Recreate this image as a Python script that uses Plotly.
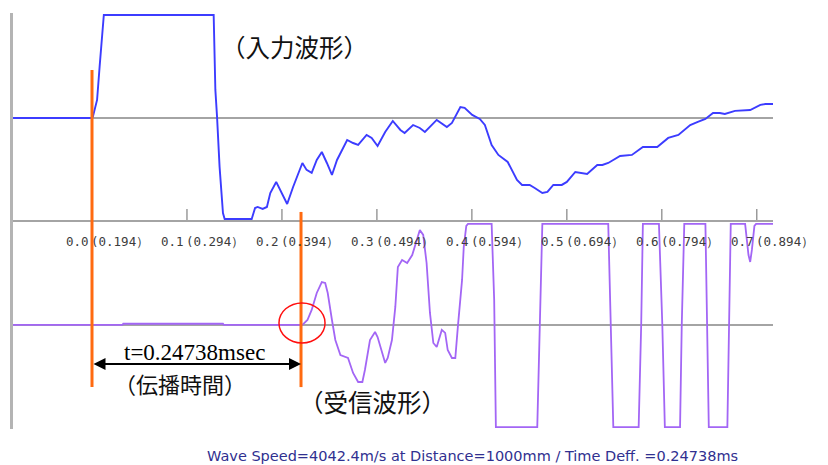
import plotly.graph_objects as go

# ---- waveform data (time in ms, amplitude normalised to +-1 per channel) ----
input_t = [-0.094, 0.000, 0.001, 0.006, 0.009, 0.014, 0.144, 0.146, 0.148, 0.151,
           0.155, 0.157, 0.189, 0.193, 0.196, 0.202, 0.207, 0.211, 0.218, 0.225,
           0.231, 0.238, 0.249, 0.254, 0.260, 0.266, 0.272, 0.278, 0.284, 0.290,
           0.302, 0.309, 0.315, 0.325, 0.331, 0.338, 0.347, 0.356, 0.365, 0.370,
           0.380, 0.388, 0.394, 0.408, 0.420, 0.426, 0.436, 0.441, 0.450, 0.459,
           0.465, 0.473, 0.481, 0.492, 0.503, 0.509, 0.518, 0.524, 0.533, 0.539,
           0.546, 0.556, 0.562, 0.572, 0.581, 0.586, 0.598, 0.604, 0.611, 0.625,
           0.639, 0.652, 0.669, 0.682, 0.694, 0.708, 0.717, 0.726, 0.735, 0.743,
           0.749, 0.761, 0.779, 0.791, 0.797, 0.806]
input_v = [0.000, 0.000, 0.010, 0.174, 0.493, 0.995, 0.995, 0.271, 0.010, -0.473,
           -0.918, -0.976, -0.976, -0.870, -0.860, -0.879, -0.860, -0.725, -0.618, -0.725,
           -0.831, -0.667, -0.435, -0.502, -0.531, -0.406, -0.329, -0.435, -0.551, -0.406,
           -0.213, -0.242, -0.261, -0.164, -0.193, -0.271, -0.135, -0.029, -0.116, -0.145,
           -0.068, -0.097, -0.135, -0.019, -0.087, -0.048, 0.106, 0.097, 0.029, -0.010,
           -0.068, -0.261, -0.357, -0.425, -0.599, -0.647, -0.647, -0.676, -0.725, -0.715,
           -0.647, -0.647, -0.618, -0.522, -0.531, -0.541, -0.454, -0.454, -0.435, -0.367,
           -0.357, -0.280, -0.280, -0.193, -0.164, -0.068, -0.039, -0.010, 0.048, 0.048,
           0.039, 0.068, 0.077, 0.126, 0.135, 0.135]

recv_t = [-0.094, 0.036, 0.037, 0.155, 0.156, 0.249, 0.255, 0.260, 0.266, 0.272,
          0.276, 0.279, 0.284, 0.288, 0.294, 0.299, 0.303, 0.309, 0.315, 0.320,
          0.323, 0.329, 0.335, 0.338, 0.343, 0.347, 0.350, 0.355, 0.359, 0.362,
          0.367, 0.373, 0.379, 0.385, 0.388, 0.392, 0.396, 0.400, 0.404, 0.408,
          0.414, 0.418, 0.421, 0.426, 0.430, 0.433, 0.438, 0.440, 0.443, 0.445,
          0.473, 0.476, 0.478, 0.527, 0.530, 0.533, 0.611, 0.614, 0.617, 0.647,
          0.650, 0.652, 0.671, 0.675, 0.678, 0.696, 0.698, 0.701, 0.726, 0.728,
          0.730, 0.752, 0.754, 0.756, 0.773, 0.777, 0.779, 0.781, 0.784, 0.786,
          0.806]
recv_v = [0.000, 0.000, 0.012, 0.012, 0.000, 0.000, 0.048, 0.145, 0.309, 0.415,
          0.406, 0.309, 0.048, -0.145, -0.290, -0.309, -0.319, -0.464, -0.551, -0.551,
          -0.435, -0.145, -0.068, -0.116, -0.271, -0.367, -0.319, -0.145, 0.174, 0.560,
          0.628, 0.599, 0.676, 0.850, 0.918, 0.870, 0.599, 0.116, -0.174, -0.213,
          -0.048, -0.077, -0.242, -0.319, -0.319, -0.019, 0.435, 0.754, 0.957, 0.976,
          0.976, 0.242, -0.986, -0.986, 0.000, 0.976, 0.976, 0.000, -0.986, -0.986,
          0.000, 0.976, 0.976, 0.000, -0.986, -0.986, 0.000, 0.976, 0.976, 0.000,
          -0.986, -0.986, 0.000, 0.976, 0.976, 0.676, 0.609, 0.725, 0.957, 0.976,
          0.976]

# ---- time-axis division labels: relative time (absolute time) ----
div_rel = ["0.0", "0.1", "0.2", "0.3", "0.4", "0.5", "0.6", "0.7"]
div_abs = ["0.194", "0.294", "0.394", "0.494", "0.594", "0.694", "0.794", "0.894"]
ms_per_div = 0.1124

# ---- measurement ----
t_prop = 0.24738      # ms, propagation time
distance_mm = 1000
speed = distance_mm / t_prop   # mm/ms == m/s

# channel vertical offsets
off_in, off_rx = 1.0, -1.0
x_range = [-0.0935, 0.806]
y_range = [-2.005, 2.014]

ORANGE = "#ff6a10"
BLUE = "#3c3cff"
PURPLE = "#a366f5"
GRID = "#a4a4a4"
LABEL_FONT = dict(family="DejaVu Sans Mono", size=12.5, color="#3c3c3c")
CJK = "Noto Sans CJK JP"

fig = go.Figure()
fig.add_trace(go.Scatter(x=input_t, y=[off_in + v for v in input_v], mode="lines",
                         line=dict(color=BLUE, width=1.9), hoverinfo="skip"))
fig.add_trace(go.Scatter(x=recv_t, y=[off_rx + v for v in recv_v], mode="lines",
                         line=dict(color=PURPLE, width=1.8), hoverinfo="skip"))

shapes = []
annotations = []


def to_paper_x(x):
    return (x - x_range[0]) / (x_range[1] - x_range[0])


# division ticks on the centre line and their labels
for i, (rel, ab) in enumerate(zip(div_rel, div_abs)):
    xt = i * ms_per_div
    shapes.append(dict(type="line", xref="x", yref="y", x0=xt, x1=xt, y0=0, y1=0.121,
                       line=dict(color="#8c8c8c", width=1.3), layer="below"))
    px = to_paper_x(xt)
    annotations.append(dict(xref="paper", yref="y", x=px, y=-0.19, text=rel, showarrow=False,
                            xanchor="right", xshift=-1, font=LABEL_FONT))
    annotations.append(dict(xref="paper", yref="y", x=px, y=-0.19, text="(" + ab + "）",
                            showarrow=False, xanchor="left", xshift=-3, font=LABEL_FONT))

# trigger and arrival markers
shapes.append(dict(type="line", xref="x", yref="y", x0=0, x1=0, y0=1.464, y1=-1.6,
                   line=dict(color=ORANGE, width=3), layer="above"))
shapes.append(dict(type="line", xref="x", yref="y", x0=t_prop, x1=t_prop, y0=0.092, y1=-1.6,
                   line=dict(color=ORANGE, width=3), layer="above"))
# circle around arrival onset
shapes.append(dict(type="circle", xref="x", yref="y", x0=0.2213, x1=0.2758, y0=-1.174, y1=-0.787,
                   line=dict(color="#ff1010", width=1.5), layer="above"))

# propagation-time arrow
annotations.append(dict(xref="x", yref="y", axref="x", ayref="y", x=t_prop, y=-1.377,
                        ax=0, ay=-1.377, text="", showarrow=True, arrowside="end+start",
                        arrowhead=2, arrowsize=1.2, arrowwidth=2, arrowcolor="#000000",
                        standoff=0, startstandoff=0))
annotations.append(dict(xref="x", yref="y", x=t_prop / 2 - 0.002, y=-1.262,
                        text=f"t={t_prop}msec", showarrow=False,
                        font=dict(family="Liberation Serif", size=23, color="#000000")))
annotations.append(dict(xref="x", yref="y", x=0.1036, y=-1.56, text="（伝播時間）",
                        showarrow=False,
                        font=dict(family=CJK, size=22, color="#111111")))
annotations.append(dict(xref="x", yref="y", x=0.2397, y=1.686, text="（入力波形）",
                        showarrow=False,
                        font=dict(family=CJK, size=24.5, color="#111111")))
annotations.append(dict(xref="x", yref="y", x=0.3314, y=-1.744, text="（受信波形）",
                        showarrow=False,
                        font=dict(family=CJK, size=24.5, color="#111111")))

# summary line
annotations.append(dict(xref="paper", yref="paper", x=0.604, y=-0.065,
                        text=f"Wave Speed={speed:.1f}m/s at Distance={distance_mm}mm / "
                             f"Time Deff. ={t_prop}ms",
                        showarrow=False, yanchor="middle",
                        font=dict(family="DejaVu Sans", size=14.5, color="#303090")))

fig.update_layout(
    width=828, height=465,
    margin=dict(l=13, r=55, t=13, b=36),
    paper_bgcolor="white", plot_bgcolor="white",
    showlegend=False,
    shapes=shapes, annotations=annotations,
    xaxis=dict(range=x_range, showgrid=False, zeroline=False, showline=False,
               showticklabels=False, ticks=""),
    yaxis=dict(range=y_range, tickvals=[-1, 0, 1], showticklabels=False, ticks="",
               showgrid=True, gridcolor=GRID, gridwidth=1.6, zeroline=False,
               showline=True, linecolor="#b4b4b4", linewidth=2.5),
)

fig.write_html("out.html")
